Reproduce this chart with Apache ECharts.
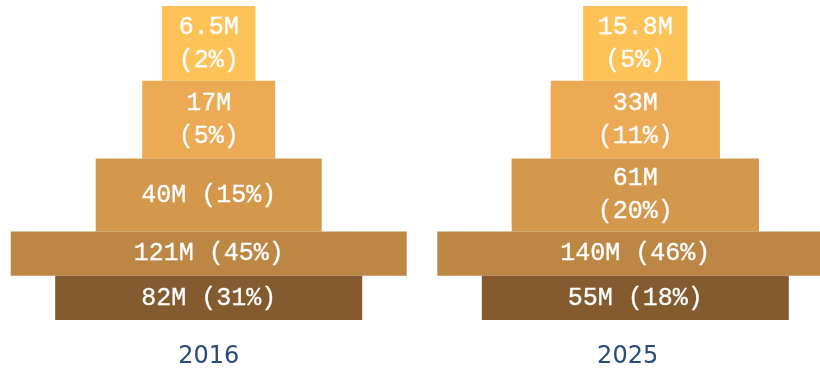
<!DOCTYPE html>
<html>
<head>
<meta charset="utf-8">
<script src="https://cdn.jsdelivr.net/npm/echarts@6/dist/echarts.min.js"></script>
<style>
  html, body { margin: 0; padding: 0; background: #ffffff; }
  #chart { width: 820px; height: 374px; }
</style>
</head>
<body>
<div id="chart"></div>
<script>
// Two population pyramids, tiers listed top to bottom.
const years = ['2016', '2025'];
const tiers = ['Tier 1', 'Tier 2', 'Tier 3', 'Tier 4', 'Tier 5'];

// Population per tier (millions) and share of total (%)
const population2016 = ['6.5', '17', '40', '121', '82'];
const share2016 = [2, 5, 15, 45, 31];
const population2025 = ['15.8', '33', '61', '140', '55'];
const share2025 = [5, 11, 20, 46, 18];

// Tier width on the pyramid's horizontal scale
const tierWidth2016 = [93.6, 133, 226, 396, 307];
const tierWidth2025 = [104.4, 169.3, 247.3, 396, 307];

// Whether the tier label is split over two lines
const splitLabel2016 = [true, true, false, false, false];
const splitLabel2025 = [true, true, true, false, false];

// Vertical extent of each tier on the pyramid's vertical scale
const tierEdges = [0, 75, 153, 226.3, 270.7, 315];

const tierColors = ['#FEC358', '#ECAA55', '#D4984D', '#BC8745', '#835B2F'];
const yearColor = '#2B4A78';
const labelFont = '25px "Liberation Mono", "DejaVu Sans Mono", monospace';

function tierLabel(pop, share, split) {
  return pop + 'M' + (split ? '\n' : ' ') + '(' + share + '%)';
}

function makeRenderer(pops, shares, splits) {
  return function (params, api) {
    const i = params.dataIndex;
    const w = api.value(1);
    const p0 = api.coord([-w / 2, tierEdges[i]]);
    const p1 = api.coord([w / 2, tierEdges[i + 1]]);
    return {
      type: 'rect',
      shape: {
        x: p0[0],
        y: Math.min(p0[1], p1[1]),
        width: p1[0] - p0[0],
        height: Math.abs(p1[1] - p0[1])
      },
      style: { fill: tierColors[i] },
      textContent: {
        style: {
          text: tierLabel(pops[i], shares[i], splits[i]),
          fill: '#ffffff',
          stroke: '#ffffff',
          lineWidth: 0.3,
          font: labelFont,
          align: 'center',
          verticalAlign: 'middle',
          lineHeight: 33
        }
      },
      textConfig: { position: 'inside' }
    };
  };
}

const pyramids = [
  { pops: population2016, shares: share2016, widths: tierWidth2016, splits: splitLabel2016 },
  { pops: population2025, shares: share2025, widths: tierWidth2025, splits: splitLabel2025 }
];
// Each grid maps one axis unit to one pixel; the right pyramid's base runs past the edge.
const gridLayout = [
  { left: 8.7, width: 400, min: -200, max: 200 },
  { left: 435.3, width: 384.7, min: -200, max: 184.7 }
];

const option = {
  animation: false,
  grid: gridLayout.map(g => ({ left: g.left, width: g.width, top: 6, height: 315 })),
  xAxis: gridLayout.map((g, k) => ({
    type: 'value',
    gridIndex: k,
    min: g.min,
    max: g.max,
    name: years[k],
    nameLocation: 'middle',
    nameGap: 25,
    nameTextStyle: { color: yearColor, fontSize: 24, fontFamily: 'DejaVu Sans' },
    axisLine: { show: false },
    axisTick: { show: false },
    axisLabel: { show: false },
    splitLine: { show: false }
  })),
  yAxis: gridLayout.map((g, k) => ({
    type: 'value',
    gridIndex: k,
    min: 0,
    max: 315,
    inverse: true,
    show: false,
    splitLine: { show: false }
  })),
  series: pyramids.map((p, k) => ({
    type: 'custom',
    xAxisIndex: k,
    yAxisIndex: k,
    clip: true,
    renderItem: makeRenderer(p.pops, p.shares, p.splits),
    encode: { x: 1 },
    data: tiers.map((t, i) => [t, p.widths[i]])
  }))
};

const chart = echarts.init(document.getElementById('chart'), null, { renderer: 'canvas' });
chart.setOption(option);
</script>
</body>
</html>
